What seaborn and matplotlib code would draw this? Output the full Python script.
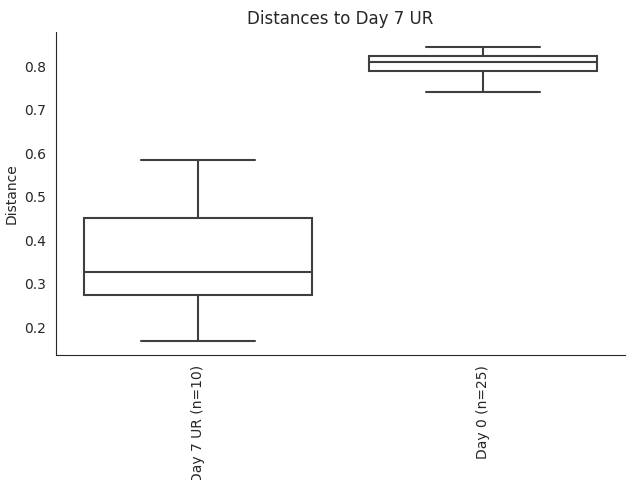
import numpy as np
import pandas as pd
import matplotlib
matplotlib.use("Agg")
import matplotlib.pyplot as plt
import seaborn as sns

# distance values per group
day7_ur = [0.170, 0.222, 0.262, 0.312, 0.316, 0.338, 0.436, 0.456, 0.520, 0.584]
day0 = [0.741, 0.752, 0.763, 0.771, 0.778, 0.784, 0.789, 0.792, 0.795, 0.799,
        0.802, 0.806, 0.809, 0.811, 0.813, 0.815, 0.818, 0.821, 0.824, 0.827,
        0.830, 0.833, 0.837, 0.841, 0.844]
group_names = ["Day 7 UR", "Day 0"]

df = pd.DataFrame({
    "group": [f"{group_names[0]} (n={len(day7_ur)})"] * len(day7_ur)
             + [f"{group_names[1]} (n={len(day0)})"] * len(day0),
    "Distance": day7_ur + day0,
})

sns.set_style("white")
fig, ax = plt.subplots(figsize=(6.4, 4.8), dpi=100)
sns.boxplot(data=df, x="group", y="Distance", ax=ax,
            color="white", linecolor="#3f3f3f", linewidth=1.5, fliersize=3)
sns.despine(ax=ax)
ax.set_title("Distances to Day 7 UR")
ax.set_xlabel("")
ax.set_ylabel("Distance")
plt.setp(ax.get_xticklabels(), rotation=90)

fig.subplots_adjust(left=0.0875, right=0.977, top=0.933, bottom=0.26)
fig.savefig("out.png")
plt.close(fig)
